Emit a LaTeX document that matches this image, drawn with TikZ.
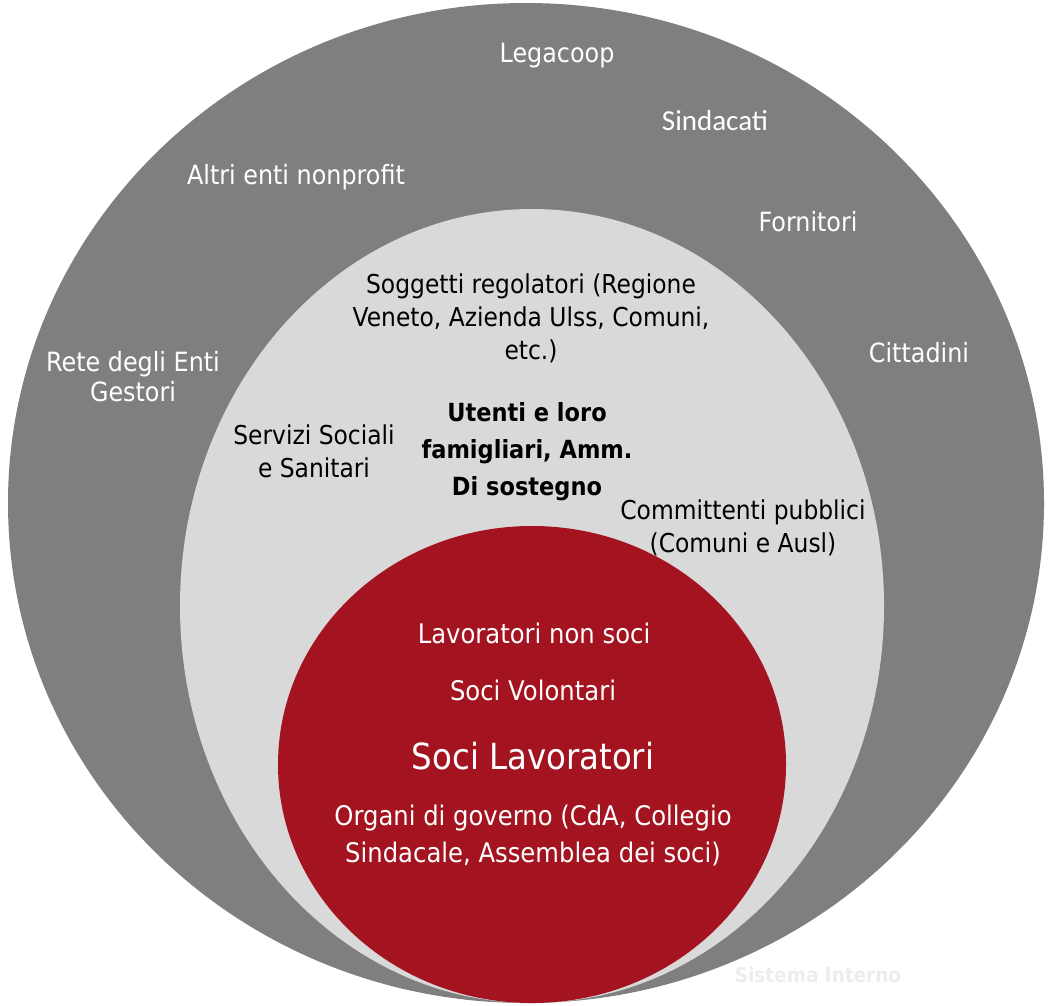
\documentclass[tikz,border=0pt]{standalone}
\usepackage{fontspec}
\setmainfont{DejaVu Sans}[FakeStretch=0.9]
\newfontfamily\calib{Carlito}
\definecolor{outergray}{HTML}{7F7F7F}
\definecolor{innergray}{HTML}{D9D9D9}
\definecolor{corered}{HTML}{A31420}
\definecolor{faint}{HTML}{EDEDED}
\tikzset{
  ringlbl/.style={text=white, align=center, font=\fontsize{26.5}{30}\selectfont, inner sep=0pt},
  midlbl/.style={text=black, align=center, font=\fontsize{26}{33}\selectfont, inner sep=0pt},
  boldlbl/.style={text=black, align=center, font=\fontsize{25}{37}\selectfont\bfseries, inner sep=0pt},
  redlbl/.style={text=white, align=center, font=\fontsize{27}{37}\selectfont, inner sep=0pt}
}
\begin{document}
\begin{tikzpicture}[x=1pt,y=-1pt]
\useasboundingbox (0,0) rectangle (1048,1005);
\begin{scope}
\clip (0,0) rectangle (1048,1005);
\fill[outergray] (526,503) ellipse [x radius=518, y radius=500];
\fill[innergray] (532,606) ellipse [x radius=352, y radius=397];
\fill[corered] (532,764.5) ellipse [x radius=254, y radius=238.5];
\end{scope}
% outer ring
\node[ringlbl] (legacoop) at (557,56) {Legacoop};
\node[ringlbl, font=\calib\fontsize{29}{34}\selectfont] (sindacati) at (715,121) {Sindacati};
\node[ringlbl] (altri) at (296,177) {Altri enti nonprofit};
\node[ringlbl] (fornitori) at (808,222) {Fornitori};
\node[ringlbl] (rete) at (133,377) {Rete degli Enti\\Gestori};
\node[ringlbl] (cittadini) at (919,353) {Cittadini};
% middle ring
\node[midlbl] (soggetti) at (531,318) {Soggetti regolatori (Regione\\Veneto, Azienda Ulss, Comuni,\\etc.)};
\node[midlbl] (servizi) at (314,451) {Servizi Sociali\\e Sanitari};
\node[boldlbl] (utenti) at (527,452) {Utenti e loro\\famigliari, Amm.\\Di sostegno};
\node[midlbl] (committenti) at (743,528) {Committenti pubblici\\(Comuni e Ausl)};
% core
\node[redlbl] (nonsoci) at (534,633) {Lavoratori non soci};
\node[redlbl] (volontari) at (533,690) {Soci Volontari};
\node[redlbl, font=\fontsize{36}{40}\selectfont] (lavoratori) at (533,756) {Soci Lavoratori};
\node[redlbl] (organi) at (533,836) {Organi di governo (CdA, Collegio\\Sindacale, Assemblea dei soci)};
% faint label
\node[text=faint, font=\fontsize{20.5}{24}\selectfont\bfseries, inner sep=0pt] (sistema) at (818,975) {Sistema Interno};
\end{tikzpicture}
\end{document}
